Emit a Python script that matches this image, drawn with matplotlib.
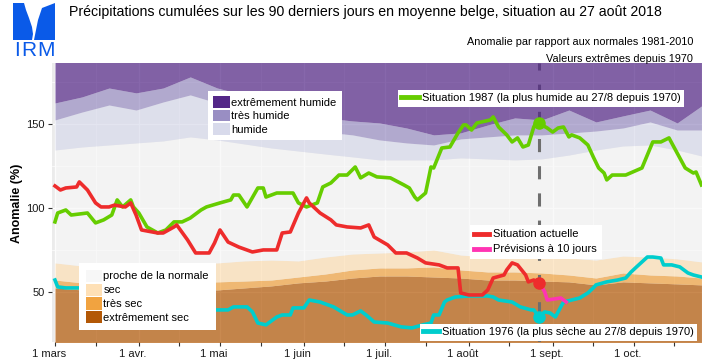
import numpy as np
import matplotlib.pyplot as plt
import matplotlib.transforms as mtransforms
from matplotlib.patches import Patch, Polygon
from matplotlib.lines import Line2D

plt.rcParams['font.family'] = ['Liberation Sans', 'DejaVu Sans']

# jours depuis le 1er mars 2018
band_days = [0, 10, 20, 30, 40, 50, 60, 70, 80, 90, 100, 110, 120,
             130, 140, 150, 160, 170, 180, 190, 200, 210, 220, 230, 239]
# limites des classes (anomalie en %)
lim_extr_humide = [162.8, 166.4, 171.7, 168.8, 171.7, 178.3, 171.7, 167.6, 161.6, 157.4, 153.9, 152.1, 150.9,
                   147.9, 143.8, 145.0, 149.7, 153.9, 152.7, 158.6, 151.5, 155.1, 158.6, 150.9, 161.0]
lim_tres_humide = [152.7, 157.4, 161.6, 158.6, 163.4, 167.6, 162.8, 157.4, 152.7, 148.5, 145.5, 143.8, 140.8,
                   139.0, 137.8, 141.4, 142.6, 143.8, 143.8, 144.9, 146.1, 147.9, 151.5, 146.7, 146.7]
lim_humide = [134.8, 136.6, 137.8, 139.0, 140.2, 142.6, 140.8, 138.4, 136.0, 134.2, 132.4, 130.7, 128.9,
              128.9, 128.9, 130.1, 129.5, 128.9, 129.5, 131.8, 134.8, 137.2, 137.8, 134.8, 131.3]
lim_sec = [67.6, 65.8, 66.4, 67.0, 67.6, 67.6, 67.6, 68.8, 69.3, 68.8, 71.1, 72.9, 73.5,
           74.1, 75.3, 72.3, 71.1, 71.7, 71.7, 70.5, 69.3, 71.7, 71.1, 70.0, 68.2]
lim_tres_sec = [57.4, 55.7, 55.7, 56.3, 55.7, 55.7, 56.3, 56.8, 57.4, 59.2, 61.0, 63.4, 64.6,
                64.6, 65.2, 63.4, 62.2, 62.2, 61.6, 60.4, 58.6, 61.6, 60.4, 59.8, 58.6]
lim_extr_sec = [52.7, 51.5, 51.5, 51.5, 51.5, 51.5, 51.5, 52.7, 53.9, 55.7, 56.8, 58.6, 59.8,
                59.8, 59.2, 58.6, 57.4, 57.4, 56.8, 56.3, 54.5, 56.3, 55.7, 55.1, 54.5]

# situation actuelle 2018
actuel_days = [0, 2, 4, 8, 9, 12, 15, 17, 20, 22, 26, 28, 30, 32, 38, 40, 44, 45, 49, 52, 57, 59, 61, 64,
               68, 73, 77, 82, 84, 87, 90, 93, 94, 98, 102, 104, 108, 113, 116, 118, 123, 126, 130, 134,
               137, 142, 145, 149, 150, 153, 158, 160, 162, 166, 167, 169, 171, 174, 175, 177, 179]
actuel_vals = [113.4, 111, 112.2, 112.8, 115.8, 111, 103.3, 100.9, 100.9, 102, 100.9, 103.3, 96, 87.2,
               85.4, 85.4, 89, 90.2, 81.3, 73.5, 73.5, 79.5, 87.2, 80, 77, 74.1, 75.3, 75.3, 85.4, 86,
               97.3, 106.3, 103.3, 97.3, 93.2, 90.2, 89, 88.4, 90.2, 83, 78.3, 73.5, 73.5, 70.5, 67.6,
               66.4, 64.6, 64.6, 49.7, 48.5, 48.5, 51.5, 58.6, 60.4, 63.4, 67.6, 66.4, 60.4, 56.3, 57.4,
               55.7]
prev_days = [179, 181, 182, 185, 187, 189]
prev_vals = [55.7, 50.5, 45.5, 46.2, 46.7, 44.3]

# 1987
h1987_days = [0, 1, 4, 6, 12, 15, 18, 21, 23, 25, 28, 29, 31, 34, 38, 41, 44, 47, 50, 54, 56, 61, 65, 66,
              68, 71, 75, 77, 78, 82, 88, 90, 93, 97, 99, 102, 105, 108, 111, 113, 116, 119, 124, 129,
              131, 133, 134, 137, 139, 140, 143, 146, 149, 151, 152, 154, 156, 161, 162, 164, 167, 169,
              171, 173, 175, 177, 178, 179, 180, 182, 184, 186, 188, 190, 191, 194, 197, 199, 201, 203,
              204, 206, 211, 217, 221, 224, 227, 228, 233, 236, 237, 239]
h1987_vals = [92, 97.3, 99.1, 96.1, 97.3, 91.4, 93.2, 96.1, 105.1, 100.9, 105.1, 100.9, 97.3, 89, 85.4,
              87.2, 92, 92, 94.3, 99.1, 100.9, 103.3, 105.1, 108, 108, 100.9, 112.2, 112.2, 106.8, 109.2,
              109.2, 103.3, 100.9, 103.3, 112.8, 115.2, 119.9, 119.9, 124.7, 118.2, 121.1, 118.8, 118.2,
              114, 112.2, 106.8, 105.1, 109.2, 124.7, 124.1, 136, 136.6, 144.9, 149.7, 149.7, 146.7,
              150.9, 152.7, 154.5, 148.5, 143.8, 139.6, 142, 136.6, 137.8, 148.5, 151.5, 150.9, 149.7,
              147.9, 145.5, 147.9, 148.5, 142.6, 143.8, 142, 137.8, 130.7, 124.1, 121.1, 117, 119.9,
              119.9, 124.1, 139.6, 139.6, 142, 139, 124.1, 121.1, 121.7, 114]

# 1976
s1976_days = [0, 1, 4, 9, 15, 22, 30, 38, 46, 53, 59, 64, 66, 71, 73, 75, 78, 82, 84, 87, 88, 92, 94, 98,
              103, 108, 110, 113, 115, 118, 123, 128, 132, 136, 139, 140, 142, 144, 145, 148, 153, 160,
              162, 164, 169, 172, 176, 177, 179, 181, 183, 185, 187, 188, 191, 194, 197, 199, 200, 204,
              208, 211, 213, 215, 219, 221, 224, 225, 228, 231, 234, 236, 239]
s1976_vals = [57.4, 53.3, 52.7, 52.7, 51, 49, 46, 44, 42, 41, 39.6, 39.6, 41.4, 41.4, 38.4, 31.8, 30.7,
              35.4, 36.6, 36.6, 40.8, 40.8, 45.5, 44.3, 41.4, 36.6, 36.6, 39, 36.6, 32.4, 31.8, 29.5,
              28.9, 30.7, 31.8, 36.6, 36.6, 44.3, 45.5, 47.3, 47.9, 47.9, 47.3, 45.5, 44.3, 41.4, 39.6,
              39.6, 35.4, 38.4, 37.8, 35.4, 41.4, 44.3, 45.5, 46.7, 49.7, 52.7, 54.5, 56.3, 57.4, 58.6,
              62.2, 65.2, 71.1, 71.1, 70.5, 66.4, 66.4, 65.2, 61.6, 60.4, 59.2]

jour_actuel = 179
mois_jours = [0, 31, 61, 92, 122, 153, 184, 214]
mois_labels = ['1 mars', '1 avr.', '1 mai', '1 juin', '1 juil.', '1 août', '1 sept.', '1 oct.']
mi_mois_jours = [15, 46, 76, 107, 137, 168, 199, 229]

classes_humides = ['extrêmement humide', 'très humide', 'humide']
classes_seches = ['proche de la normale', 'sec', 'très sec', 'extrêmement sec']
puor = ['#b35806', '#f1a340', '#fee0b6', '#f7f7f7', '#d8daeb', '#998ec3', '#542788']

W, H = 715, 362


def fx(x):
    return x / W


def fy(y):
    return 1 - y / H


fig = plt.figure(figsize=(W / 100, H / 100), dpi=100)
fig.set_facecolor('white')
ax = fig.add_axes([fx(52), fy(342), fx(702) - fx(52), fy(63) - fy(342)])
ax.set_facecolor('#ebebeb')

ymin, ymax = 20.5, 186.6
bd = np.array(band_days)
bounds = [np.full(len(bd), 0.0), lim_extr_sec, lim_tres_sec, lim_sec,
          lim_humide, lim_tres_humide, lim_extr_humide, np.full(len(bd), 250.0)]
for i in range(7):
    ax.fill_between(bd, bounds[i], bounds[i + 1], color=puor[i], alpha=0.7,
                    linewidth=0, zorder=1 if i < 6 else 2.5)

ax.axvline(jour_actuel, color='#6e6e6e', lw=2.2, dashes=(4.3, 4.6), zorder=2)

ax.plot(s1976_days, s1976_vals, color='#00cdcd', lw=2.6, zorder=3)
ax.plot(h1987_days, h1987_vals, color='#66cd00', lw=2.6, zorder=3)
ax.plot(prev_days, prev_vals, color='#ff34b3', lw=2.6, zorder=3.5)
ax.plot(actuel_days, actuel_vals, color='#ee2c2c', lw=2.6, zorder=4)

for d, v, c in [(s1976_days, s1976_vals, '#00cdcd'), (h1987_days, h1987_vals, '#66cd00'),
                (actuel_days, actuel_vals, '#ee2c2c')]:
    ax.plot(jour_actuel, v[d.index(jour_actuel)], 'o', color=c, ms=8, zorder=4.5)

ax.set_xlim(-1.1, 239.2)
ax.set_ylim(ymin, ymax)
ax.set_xticks(mois_jours)
ax.set_xticklabels(mois_labels)
ax.set_xticks(mi_mois_jours, minor=True)
ax.set_yticks([50, 100, 150])
ax.set_yticks([75, 125, 175], minor=True)
ax.tick_params(axis='both', which='both', length=3, width=0.8, color='#333333',
               labelsize=8, labelcolor='#1a1a1a', pad=2)
ax.tick_params(axis='y', which='minor', length=0)
ax.grid(which='major', color='white', lw=0.9)
ax.grid(which='minor', color='white', lw=0.5)
ax.set_axisbelow(True)
for s in ax.spines.values():
    s.set_visible(False)
shift = mtransforms.ScaledTranslation(-6 / 100, 0, fig.dpi_scale_trans)
for lab in ax.get_xticklabels():
    lab.set_transform(lab.get_transform() + shift)

leg_kw = dict(loc='upper left', bbox_transform=fig.transFigure, frameon=True, fancybox=False,
              edgecolor='none', framealpha=1, fontsize=8, borderaxespad=0)

h_wet = [Patch(facecolor=puor[6 - i], label=l) for i, l in enumerate(classes_humides)]
leg1 = ax.legend(handles=h_wet, bbox_to_anchor=(fx(208), fy(91)), handlelength=1.55,
                 handleheight=1.25, labelspacing=0.16, handletextpad=0.1, borderpad=0.45, **leg_kw)
leg1.set_zorder(10)
ax.add_artist(leg1)

h_dry = [Patch(facecolor=puor[3 - i], label=l) for i, l in enumerate(classes_seches)]
leg2 = ax.legend(handles=h_dry, bbox_to_anchor=(fx(79), fy(263)), handlelength=1.45,
                 handleheight=1.3, labelspacing=0.16, handletextpad=0.15, borderpad=0.6, **leg_kw)
leg2.set_zorder(10)
ax.add_artist(leg2)

leg3 = ax.legend(handles=[Line2D([], [], color='#66cd00', lw=3.5)],
                 labels=['Situation 1987 (la plus humide au 27/8 depuis 1970)'],
                 bbox_to_anchor=(fx(398), fy(90)), handlelength=1.6, handletextpad=0.25,
                 borderpad=0.3, **leg_kw)
leg3.set_zorder(10)
ax.add_artist(leg3)

leg4 = ax.legend(handles=[Line2D([], [], color='#ee2c2c', lw=3.5), Line2D([], [], color='#ff34b3', lw=3.5)],
                 labels=['Situation actuelle', 'Prévisions à 10 jours'],
                 bbox_to_anchor=(fx(470), fy(225)), handlelength=1.35, handletextpad=0.35,
                 labelspacing=0.45, borderpad=0.4, **leg_kw)
leg4.set_zorder(10)
ax.add_artist(leg4)

leg5 = ax.legend(handles=[Line2D([], [], color='#00cdcd', lw=3.5)],
                 labels=['Situation 1976 (la plus sèche au 27/8 depuis 1970)'],
                 bbox_to_anchor=(fx(420), fy(324)), handlelength=1.45, handletextpad=0.25,
                 borderpad=0.3, **leg_kw)
leg5.set_zorder(10)

fig.text(fx(69), fy(12), 'Précipitations cumulées sur les 90 derniers jours en moyenne belge, '
         'situation au 27 août 2018', ha='left', va='center', fontsize=10.2)
fig.text(fx(693), fy(42), 'Anomalie par rapport aux normales 1981-2010', ha='right', va='center',
         fontsize=7.8)
fig.text(fx(693), fy(59), 'Valeurs extrêmes depuis 1970', ha='right', va='center', fontsize=7.8)
fig.text(fx(17), fy(203), 'Anomalie (%)', rotation=90, ha='center', va='center', fontsize=9,
         fontweight='bold')

# logo IRM
bleu = '#0a5ae8'
gauche = [(13, 3), (24, 3), (26, 10), (29, 18), (32, 27), (33, 34), (32, 40), (13, 40)]
droite = [(42, 8), (55, 3), (55, 40), (34, 40), (36, 30), (38, 20)]
for pts in (gauche, droite):
    fig.add_artist(Polygon([(fx(x), fy(y)) for x, y in pts], closed=True, facecolor=bleu,
                           edgecolor='none', transform=fig.transFigure))
for lettre, x in zip('IRM', [16.5, 28.5, 46]):
    fig.text(fx(x), fy(50.5), lettre, ha='center', va='center', fontsize=15, color=bleu)

fig.savefig('out.png', dpi=100)
